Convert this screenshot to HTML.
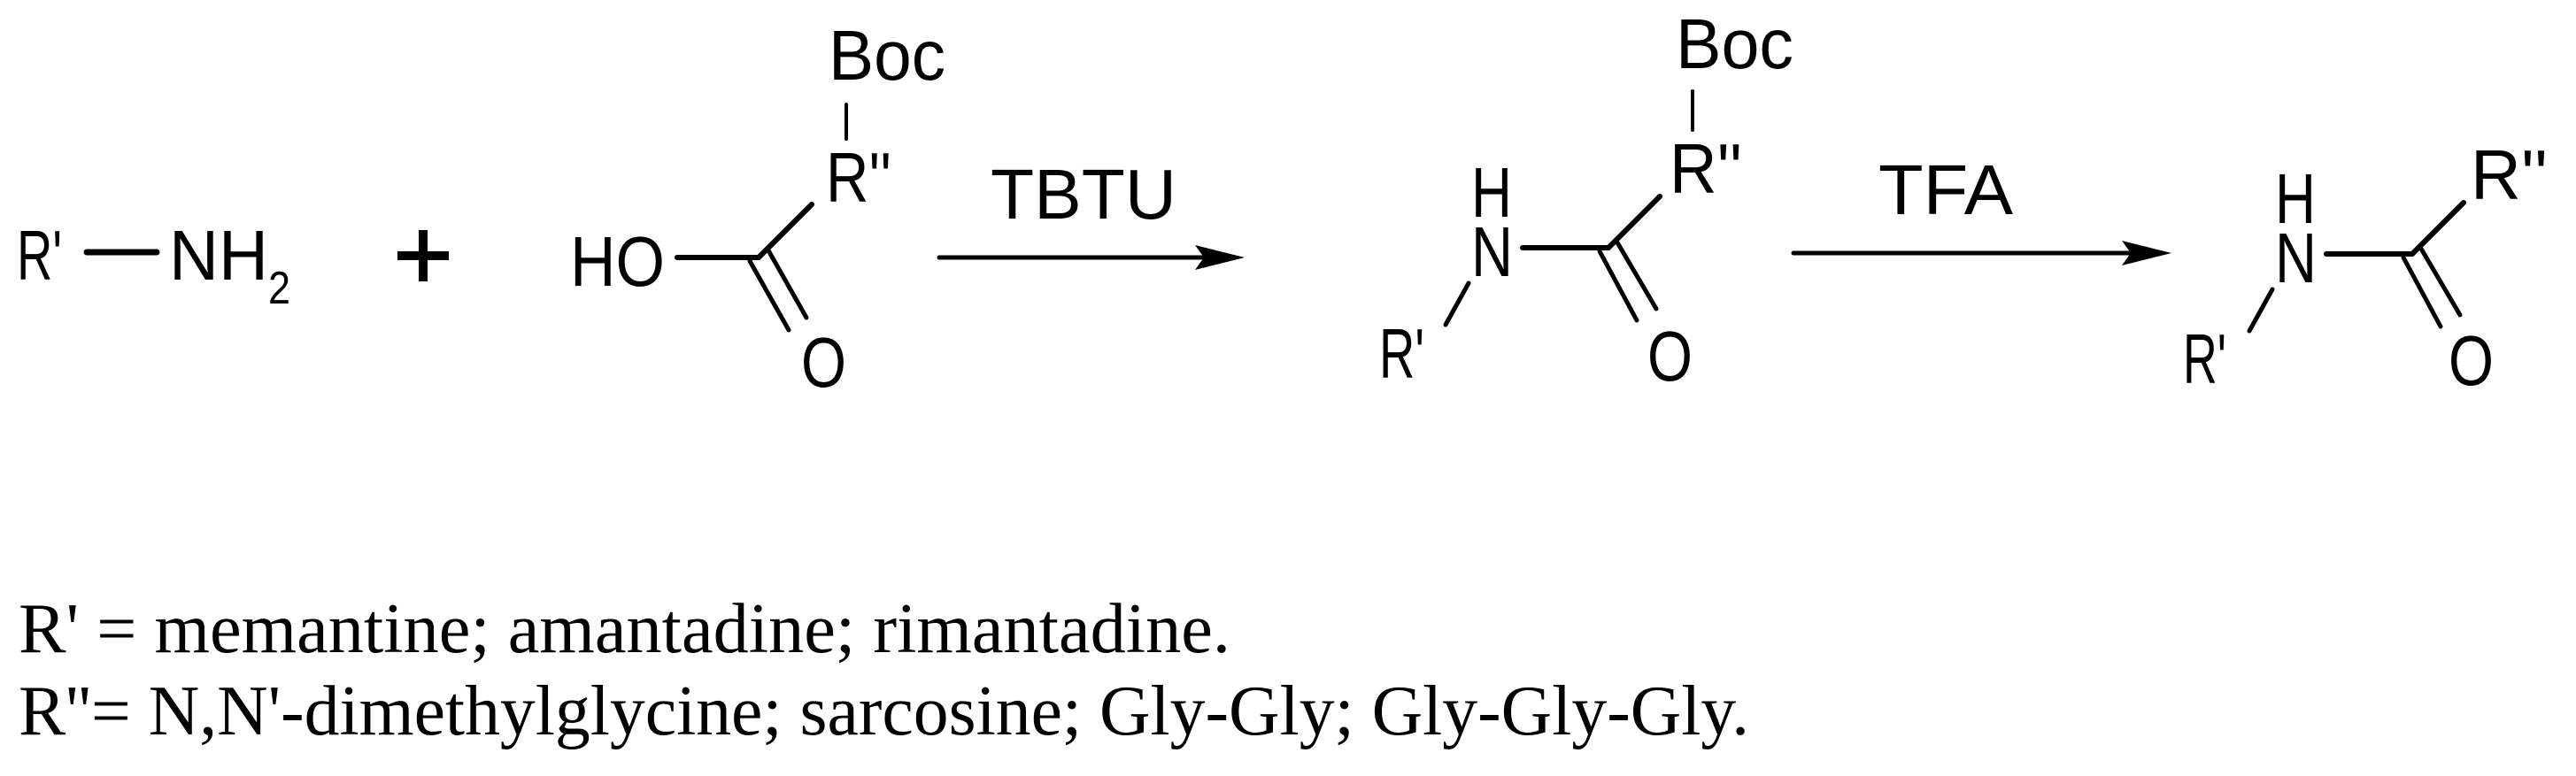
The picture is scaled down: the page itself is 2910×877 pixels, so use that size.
<!DOCTYPE html>
<html><head><meta charset="utf-8"><style>
html,body{margin:0;padding:0;background:#fff;}
svg{display:block}
.a{font-family:"Liberation Sans",Arial,sans-serif;font-size:80px;fill:#000}
.t{font-family:"Liberation Serif","Times New Roman",serif;font-size:80px;fill:#000}
line{stroke:#000;stroke-linecap:round}
</style></head><body>
<svg width="2910" height="877" viewBox="0 0 2910 877" xmlns="http://www.w3.org/2000/svg">
<rect width="2910" height="877" fill="#fff"/>
<!-- R'-NH2 -->
<text class="a" x="19" y="316" textLength="51" lengthAdjust="spacingAndGlyphs">R'</text>
<line x1="98" y1="285" x2="177" y2="285" stroke-width="7"/>
<text class="a" x="191" y="316" textLength="112" lengthAdjust="spacingAndGlyphs">NH</text>
<text class="a" x="303" y="343" style="font-size:52px" textLength="25" lengthAdjust="spacingAndGlyphs">2</text>
<!-- plus -->
<rect x="449" y="284" width="58" height="10" fill="#000"/>
<rect x="473" y="260" width="10" height="58" fill="#000"/>
<!-- acid -->
<text class="a" x="644" y="323" textLength="107" lengthAdjust="spacingAndGlyphs">HO</text>
<line x1="765" y1="291" x2="857" y2="291" stroke-width="6"/>
<line x1="857" y1="291" x2="917" y2="231" stroke-width="6"/>
<line x1="847" y1="295" x2="891" y2="373" stroke-width="5"/>
<line x1="868" y1="283" x2="911" y2="359" stroke-width="5"/>
<text class="a" x="905" y="437" textLength="51" lengthAdjust="spacingAndGlyphs">O</text>
<text class="a" x="933" y="228" textLength="74" lengthAdjust="spacingAndGlyphs">R''</text>
<line x1="956" y1="118" x2="956" y2="157" stroke-width="4"/>
<text class="a" x="936" y="90" textLength="132" lengthAdjust="spacingAndGlyphs">Boc</text>
<!-- arrow 1 -->
<text class="a" x="1119" y="247" textLength="210" lengthAdjust="spacingAndGlyphs">TBTU</text>
<line x1="1061" y1="291" x2="1370" y2="291" stroke-width="5" stroke-linecap="butt"/>
<path d="M1350,277 L1406,291 L1350,305 L1360,291 Z" fill="#000"/>
<!-- intermediate -->
<text class="a" x="1662" y="245" textLength="46" lengthAdjust="spacingAndGlyphs">H</text>
<text class="a" x="1662" y="312" textLength="47" lengthAdjust="spacingAndGlyphs">N</text>
<line x1="1720" y1="280" x2="1817" y2="280" stroke-width="6"/>
<line x1="1817" y1="280" x2="1875" y2="222" stroke-width="6"/>
<line x1="1807" y1="284" x2="1849" y2="362" stroke-width="5"/>
<line x1="1827" y1="274" x2="1871" y2="349" stroke-width="5"/>
<line x1="1659" y1="320" x2="1633" y2="367" stroke-width="5"/>
<text class="a" x="1558" y="427" textLength="51" lengthAdjust="spacingAndGlyphs">R'</text>
<text class="a" x="1861" y="430" textLength="51" lengthAdjust="spacingAndGlyphs">O</text>
<text class="a" x="1886" y="218" textLength="82" lengthAdjust="spacingAndGlyphs">R''</text>
<line x1="1912" y1="103" x2="1912" y2="147" stroke-width="4"/>
<text class="a" x="1893" y="77" textLength="133" lengthAdjust="spacingAndGlyphs">Boc</text>
<!-- arrow 2 -->
<text class="a" x="2122" y="242" textLength="152" lengthAdjust="spacingAndGlyphs">TFA</text>
<line x1="2026" y1="286" x2="2415" y2="286" stroke-width="5" stroke-linecap="butt"/>
<path d="M2397,272 L2453,286 L2397,300 L2407,286 Z" fill="#000"/>
<!-- product -->
<g transform="translate(908,7)">
<text class="a" x="1662" y="245" textLength="46" lengthAdjust="spacingAndGlyphs">H</text>
<text class="a" x="1662" y="312" textLength="47" lengthAdjust="spacingAndGlyphs">N</text>
<line x1="1720" y1="280" x2="1817" y2="280" stroke-width="6"/>
<line x1="1817" y1="280" x2="1875" y2="222" stroke-width="6"/>
<line x1="1807" y1="284" x2="1849" y2="362" stroke-width="5"/>
<line x1="1827" y1="274" x2="1871" y2="349" stroke-width="5"/>
<line x1="1659" y1="320" x2="1633" y2="367" stroke-width="5"/>
<text class="a" x="1558" y="426" textLength="49" lengthAdjust="spacingAndGlyphs">R'</text>
<text class="a" x="1858" y="428" textLength="51" lengthAdjust="spacingAndGlyphs">O</text>
<text class="a" x="1883" y="218" textLength="87" lengthAdjust="spacingAndGlyphs">R''</text>
</g>
<!-- legend -->
<text class="t" x="21" y="737" textLength="1369" lengthAdjust="spacingAndGlyphs">R' = memantine; amantadine; rimantadine.</text>
<text class="t" x="21" y="830" textLength="1955" lengthAdjust="spacingAndGlyphs">R''= N,N'-dimethylglycine; sarcosine; Gly-Gly; Gly-Gly-Gly.</text>
</svg>
</body></html>
